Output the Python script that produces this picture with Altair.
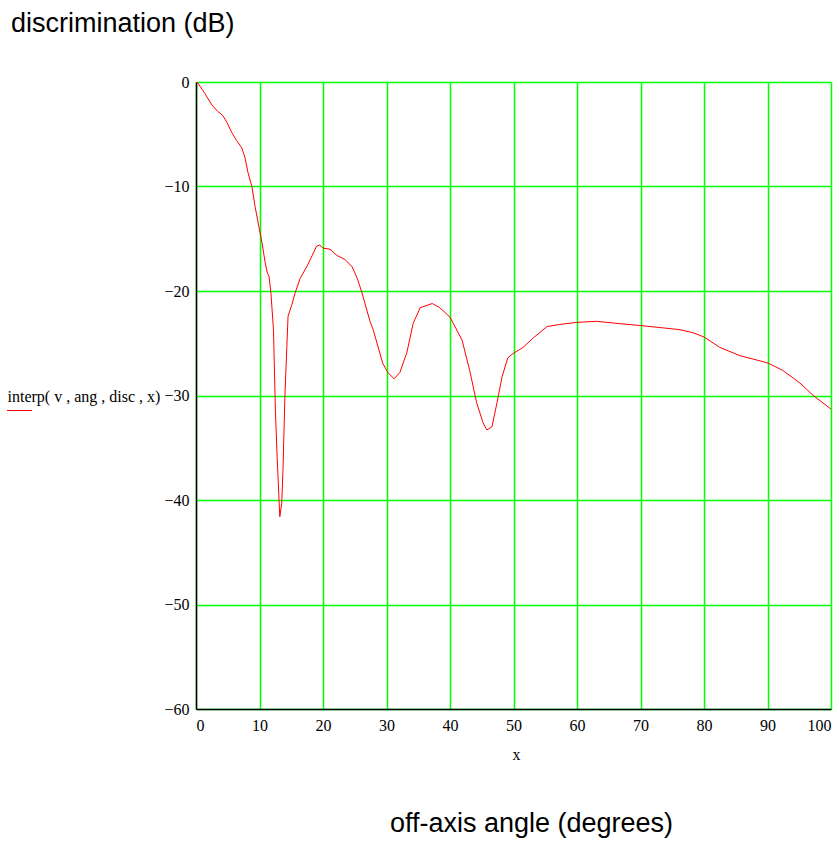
import altair as alt
import pandas as pd

# off-axis angle (degrees)
angle = [0, 0.3, 1.4, 2.5, 3.4, 4.2, 4.9, 5.6, 6.4, 7.2,
         7.7, 8.2, 8.8, 9.3, 9.8, 10.4, 10.9, 11.2, 11.5, 11.8,
         12.2, 12.5, 12.8, 13.1, 13.2, 13.5, 13.7, 14.0, 14.3, 14.5,
         15.1, 15.6, 16.4, 17.5, 18.3, 19.0, 19.5, 20.0, 21.1, 22.2,
         23.5, 24.6, 25.4, 26.1, 27.4, 27.9, 29.4, 30.2, 31.2, 32.1,
         33.2, 34.2, 35.3, 37.2, 38.4, 40.0, 41.9, 43.1, 44.2, 45.2,
         45.8, 46.6, 47.4, 48.2, 49.1, 49.9, 51.5, 53.1, 55.3, 57.3,
         60.0, 63.1, 66.3, 69.9, 73.1, 76.2, 78.3, 80.0, 82.5, 85.7,
         88.3, 90.1, 92.4, 95.1, 97.2, 100]
# discrimination (dB)
disc = [0, -0.1, -1.1, -2.2, -2.8, -3.2, -3.9, -4.8, -5.6, -6.3,
        -7.2, -8.7, -10.0, -11.9, -13.5, -15.4, -17.3, -18.2, -18.6, -20.2,
        -23.7, -31.4, -36.2, -40.3, -41.6, -40.3, -37.1, -30.1, -25.4, -22.4,
        -21.3, -20.2, -18.8, -17.6, -16.6, -15.7, -15.6, -15.9, -16.0, -16.6,
        -17.0, -17.7, -18.8, -20.1, -22.9, -23.7, -26.9, -27.8, -28.4, -27.8,
        -25.9, -23.1, -21.6, -21.2, -21.6, -22.5, -24.7, -27.6, -30.7, -32.6,
        -33.3, -33.0, -30.7, -28.2, -26.4, -26.0, -25.4, -24.5, -23.4, -23.2,
        -23.0, -22.9, -23.1, -23.3, -23.5, -23.7, -24.0, -24.4, -25.4, -26.2,
        -26.6, -26.9, -27.6, -28.8, -30.0, -31.3]

x_ticks = [0, 10, 20, 30, 40, 50, 60, 70, 80, 90, 100]
y_ticks = [-60, -50, -40, -30, -20, -10, 0]

title_top = "discrimination (dB)"
title_bottom = "off-axis angle (degrees)"
y_title = "interp( v , ang , disc , x)"
x_title = "x"

df = pd.DataFrame({"x": angle, "y": disc})

W, H = 635, 627
SERIF = "Liberation Serif"
SANS = "Liberation Sans"
GRID = "#00ff00"

line = alt.Chart(df).mark_line(color="#ff0000", strokeWidth=1, clip=True).encode(
    x=alt.X("x:Q",
            scale=alt.Scale(domain=[0, 100], nice=False, zero=False),
            axis=alt.Axis(values=x_ticks, title=x_title, format="d",
                          grid=True, gridColor=GRID, gridWidth=1.5, gridOpacity=1,
                          ticks=False, tickSize=0, labelPadding=8, labelFlush=True,
                          labelFont=SERIF, labelFontSize=16, labelColor="black",
                          domainColor="black", domainWidth=1.5,
                          titleFont=SERIF, titleFontSize=16, titleFontWeight="normal",
                          titleColor="black", titleBaseline="alphabetic",
                          titleX=320, titleY=50, titleAlign="center")),
    y=alt.Y("y:Q",
            scale=alt.Scale(domain=[-60, 0], nice=False, zero=False),
            axis=alt.Axis(values=y_ticks, title=y_title, format="d",
                          grid=True, gridColor=GRID, gridWidth=1.5, gridOpacity=1,
                          ticks=False, tickSize=0, labelPadding=7,
                          labelFont=SERIF, labelFontSize=16, labelColor="black",
                          domainColor="black", domainWidth=1.5,
                          titleFont=SERIF, titleFontSize=16, titleFontWeight="normal",
                          titleColor="black", titleAngle=0, titleAlign="left",
                          titleBaseline="alphabetic", titleX=-189, titleY=319)),
)

one = alt.Data(values=[{"a": 1}])

legend_line = alt.Chart(one).mark_rule(color="#ff0000", strokeWidth=1).encode(
    x=alt.value(-189), x2=alt.value(-164), y=alt.value(328.5)
)

top_text = alt.Chart(one).mark_text(
    text=title_top, font=SANS, fontSize=27, align="left", baseline="alphabetic", color="black"
).encode(x=alt.value(-185), y=alt.value(-50))

bottom_text = alt.Chart(one).mark_text(
    text=title_bottom, font=SANS, fontSize=27, align="center", baseline="alphabetic", color="black"
).encode(x=alt.value(335.5), y=alt.value(750))

chart = alt.layer(line, legend_line, top_text, bottom_text).properties(
    width=W, height=H,
    autosize=alt.AutoSizeParams(type="none"),
    padding={"left": 196, "top": 82, "right": 9, "bottom": 134},
).configure_view(stroke="black", strokeWidth=1.5).configure(background="white")

chart.save("out.html", embed_options={"renderer": "svg", "actions": False})
